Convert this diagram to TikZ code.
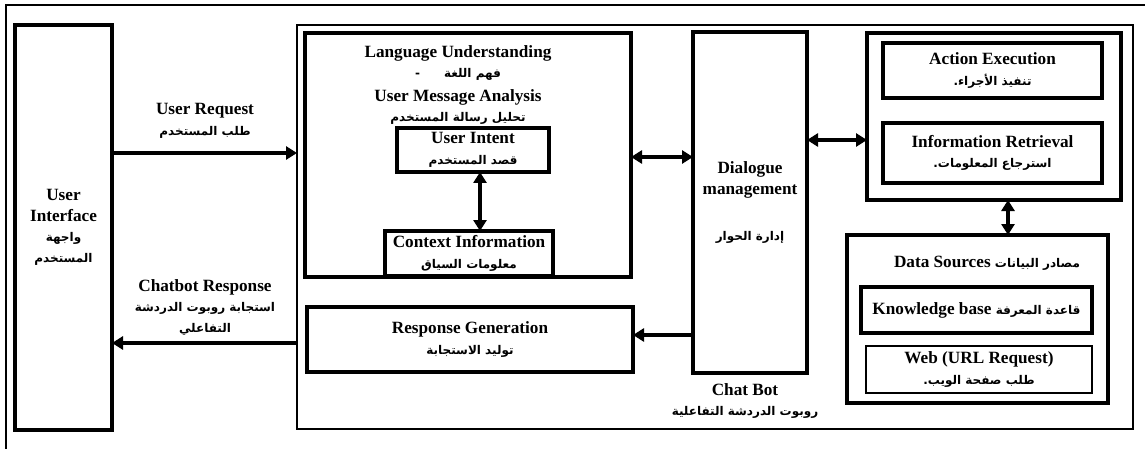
\documentclass[tikz,border=0pt]{standalone}
\usepackage{fontspec}
\usetikzlibrary{arrows.meta}
\setmainfont{Liberation Serif}
\newfontfamily\arabicfont[Script=Arabic]{DejaVu Sans}
\TeXXeTstate=1
\newcommand{\artxt}[1]{{\arabicfont\bfseries\fontsize{12}{14}\selectfont\beginR #1\endR}}
\tikzset{
  box/.style={draw, line width=3.2pt, inner sep=0pt, outer sep=0pt, align=center},
  lbl/.style={align=center, inner sep=0pt},
  arr/.style={line width=3.4pt, -{Triangle[length=11pt,width=13pt]}},
  darr/.style={line width=3.4pt, {Triangle[length=11pt,width=13pt]}-{Triangle[length=11pt,width=13pt]}}
}
\begin{document}
\begin{tikzpicture}[x=1pt,y=-1pt,font=\bfseries\fontsize{17.2}{20.5}\selectfont]
\useasboundingbox (0,0) rectangle (1145,449);
\draw[line width=1.4pt] (6,449) -- (6,5) -- (1145,5);
%\draw[step=50,gray,very thin] (0,0) grid (1145,449);

\node[box, minimum width=97, minimum height=405] (ui) at (63.5,227.5)
  {User\\Interface\\\artxt{واجهة}\\\artxt{المستخدم}};
\node[box, line width=2.8pt, minimum width=836, minimum height=404] (bot) at (715,227) {};

% language understanding
\node[box, minimum width=326, minimum height=244] (lu) at (468,155) {};
\node[lbl] (lutxt) at (458,85) {Language Understanding\\\artxt{فهم اللغة\hspace{24pt}-}\\[3pt]User Message Analysis\\\artxt{تحليل رسالة المستخدم}};
\node[box, minimum width=152, minimum height=44] (intent) at (473,150) {User Intent\\\artxt{قصد المستخدم}};
\node[box, minimum width=168, minimum height=45] (ctx) at (469,253.5) {Context Information\\\artxt{معلومات السياق}};

\node[box, minimum width=326, minimum height=65] (resp) at (470,339.5) {Response Generation\\\artxt{توليد الاستجابة}};
\node[box, minimum width=114, minimum height=341] (dlg) at (750,202.5) {Dialogue\\management\\[26pt]\artxt{إدارة الحوار}};

% actions
\node[box, minimum width=254, minimum height=167] (grp) at (994,116.5) {};
\node[box, minimum width=219, minimum height=55] (act) at (992.5,70.5) {Action Execution\\\artxt{تنفيذ الأجراء.}};
\node[box, minimum width=219, minimum height=60] (ret) at (992.5,153) {Information Retrieval\\\artxt{استرجاع المعلومات.}};

% data sources
\node[box, minimum width=261, minimum height=168] (data) at (977.5,319) {};
\node[lbl] (datatxt) at (987,263) {Data Sources \artxt{مصادر البيانات}};
\node[box, minimum width=231, minimum height=46] (kb) at (976.5,310) {Knowledge base \artxt{قاعدة المعرفة}};
\node[box, line width=1.8pt, minimum width=226, minimum height=47] (web) at (979,369.5) {Web (URL Request)\\\artxt{طلب صفحة الويب.}};

\node[lbl] (bottxt) at (745,401) {Chat Bot\\\artxt{روبوت الدردشة التفاعلية}};
\node[lbl] (reqtxt) at (205,121) {User Request\\\artxt{طلب المستخدم}};
\node[lbl] (restxt) at (205,307) {Chatbot Response\\\artxt{استجابة روبوت الدردشة}\\\artxt{التفاعلي}};

\draw[arr] (ui.east |- 0,153) -- (bot.west |- 0,153);
\draw[arr] (bot.west |- 0,343) -- (ui.east |- 0,343);
\draw[darr] (intent.south -| 480,0) -- (ctx.north -| 480,0);
\draw[darr] (lu.east |- 0,157) -- (dlg.west |- 0,157);
\draw[darr] (dlg.east |- 0,140) -- (grp.west |- 0,140);
\draw[arr] (dlg.west |- 0,335) -- (resp.east |- 0,335);
\draw[darr] (grp.south -| 1008,0) -- (data.north -| 1008,0);
\end{tikzpicture}
\end{document}
